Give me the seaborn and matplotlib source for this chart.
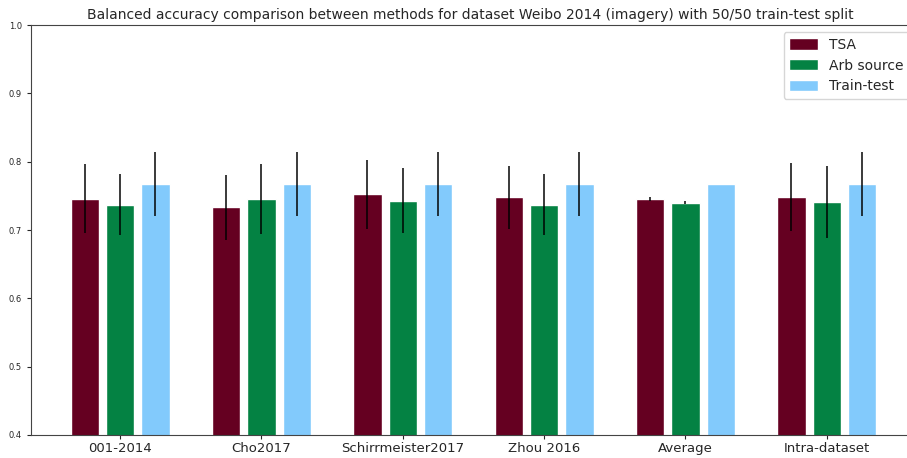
import matplotlib
matplotlib.use("Agg")
import matplotlib.pyplot as plt
import seaborn as sns
import pandas as pd
import numpy as np

categories = ["001-2014", "Cho2017", "Schirrmeister2017", "Zhou 2016", "Average", "Intra-dataset"]
methods = ["TSA", "Arb source", "Train-test"]
tsa_vals = [0.746, 0.733, 0.752, 0.748, 0.745, 0.748]
tsa_err = [0.050, 0.048, 0.050, 0.046, 0.003, 0.050]
arb_vals = [0.737, 0.745, 0.743, 0.737, 0.740, 0.741]
arb_err = [0.045, 0.051, 0.048, 0.045, 0.002, 0.052]
tt_vals = [0.767, 0.767, 0.767, 0.767, 0.767, 0.767]
tt_err = [0.047, 0.047, 0.047, 0.047, 0.0, 0.047]
colors = ["#650021", "#048243", "#82cafc"]
yticks = [0.4, 0.5, 0.6, 0.7, 0.8, 0.9, 1.0]

rows = []
for m, vals, errs in zip(methods, [tsa_vals, arb_vals, tt_vals], [tsa_err, arb_err, tt_err]):
    for c, v, e in zip(categories, vals, errs):
        rows.append({"cat": c, "method": m, "value": v, "err": e})
df = pd.DataFrame(rows)

sns.set_style("white")
fig = plt.figure(figsize=(9.07, 4.58), dpi=100)
ax = fig.add_axes([31/907, 23/458, 1.0 - 31/907 + 0.002, 410/458])
sns.barplot(data=df, x="cat", y="value", hue="method", order=categories, hue_order=methods,
            palette=colors, width=0.75, gap=0.2, errorbar=None, ax=ax,
            saturation=1)

# error bars at bar centers
for container, m in zip(ax.containers, methods):
    sub = df[df.method == m].set_index("cat").loc[categories]
    xs = [p.get_x() + p.get_width() / 2 for p in container.patches]
    ax.errorbar(xs, sub["value"].values, yerr=sub["err"].values, fmt="none",
                ecolor="black", elinewidth=1.2, capsize=0, alpha=0.9)

ax.set_ylim(0.4, 1.0)
ax.set_xlim(-0.63, 5.58)
ax.set_yticks(yticks)
ax.set_yticklabels([f"{t:.1f}" for t in yticks], fontsize=6)
ax.tick_params(axis="x", labelsize=9.5, length=3, pad=2)
ax.tick_params(axis="y", length=3, left=True)
ax.tick_params(axis="x", bottom=True)
ax.set_xlabel("")
ax.set_ylabel("")
ax.set_title("Balanced accuracy comparison between methods for dataset Weibo 2014 (imagery) with 50/50 train-test split",
             fontsize=10, pad=4)
for s in ["left", "bottom", "top", "right"]:
    ax.spines[s].set_color("#444444")
    ax.spines[s].set_linewidth(0.8)
ax.legend(loc="upper left", bbox_to_anchor=(751/876, 1 - 7/410), fontsize=10, frameon=True,
          handlelength=2.1, handleheight=0.9, borderaxespad=0.0, labelspacing=0.5)

fig.savefig("out.png", dpi=100)
